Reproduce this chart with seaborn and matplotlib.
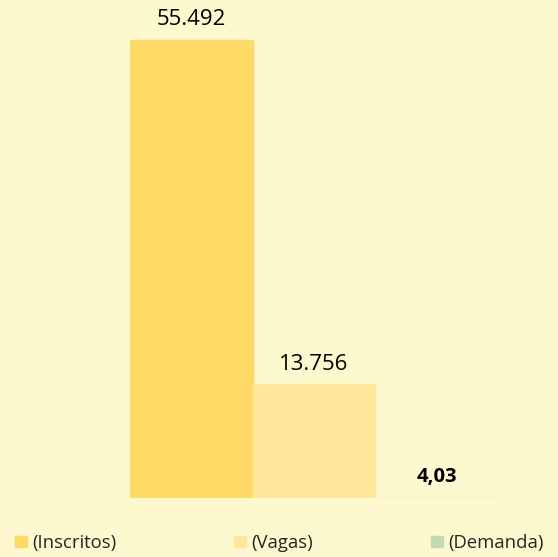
import matplotlib
matplotlib.use("Agg")
import matplotlib.pyplot as plt
import seaborn as sns
import pandas as pd

# dados
series = ["(Inscritos)", "(Vagas)", "(Demanda)"]
valores = [55492, 13756, 4.03]
rotulos = ["55.492", "13.756", "4,03"]
cores = ["#FFD966", "#FFE699", "#C5D9B5"]

fundo = "#FDF8CD"

sns.set_theme(style="white")
plt.rcParams["font.family"] = ["Open Sans", "DejaVu Sans"]

df = pd.DataFrame({"serie": series, "valor": valores})

fig = plt.figure(figsize=(5.58, 5.57), dpi=100, facecolor=fundo)
# eixo ocupando só a área das barras
ax = fig.add_axes([130 / 558, (557 - 498) / 557, 368 / 558, 478 / 557])
ax.set_facecolor(fundo)

sns.barplot(data=df, x="serie", y="valor", hue="serie", palette=cores,
            width=1.0, legend=False, ax=ax, saturation=1)

for i, p in enumerate(ax.patches):
    p.set_edgecolor(cores[i])
    p.set_linewidth(1.0)

ax.set_xlim(-0.5, 2.5)
ax.set_ylim(0, 55492 * 478 / 458)

for i, cont in enumerate(ax.containers):
    if i == 2:
        ax.bar_label(cont, labels=[rotulos[i]], padding=8, fontsize=14.5,
                     fontweight="bold", color="black")
    else:
        ax.bar_label(cont, labels=[rotulos[i]], padding=7, fontsize=16,
                     color="black")

ax.set_xticks([])
ax.set_yticks([])
ax.set_xlabel("")
ax.set_ylabel("")
sns.despine(ax=ax, left=True, bottom=True)

handles = [plt.Rectangle((0, 0), 1, 1, color=c) for c in cores]
fig.legend(handles, series, loc="center left", ncol=3, frameon=False,
           bbox_to_anchor=(15 / 558, 1 - 543 / 557),
           fontsize=13.3, handlelength=0.65, handleheight=0.6,
           handletextpad=0.27, columnspacing=6.4,
           borderpad=0, borderaxespad=0)

fig.savefig("out.png", dpi=100, facecolor=fundo)
